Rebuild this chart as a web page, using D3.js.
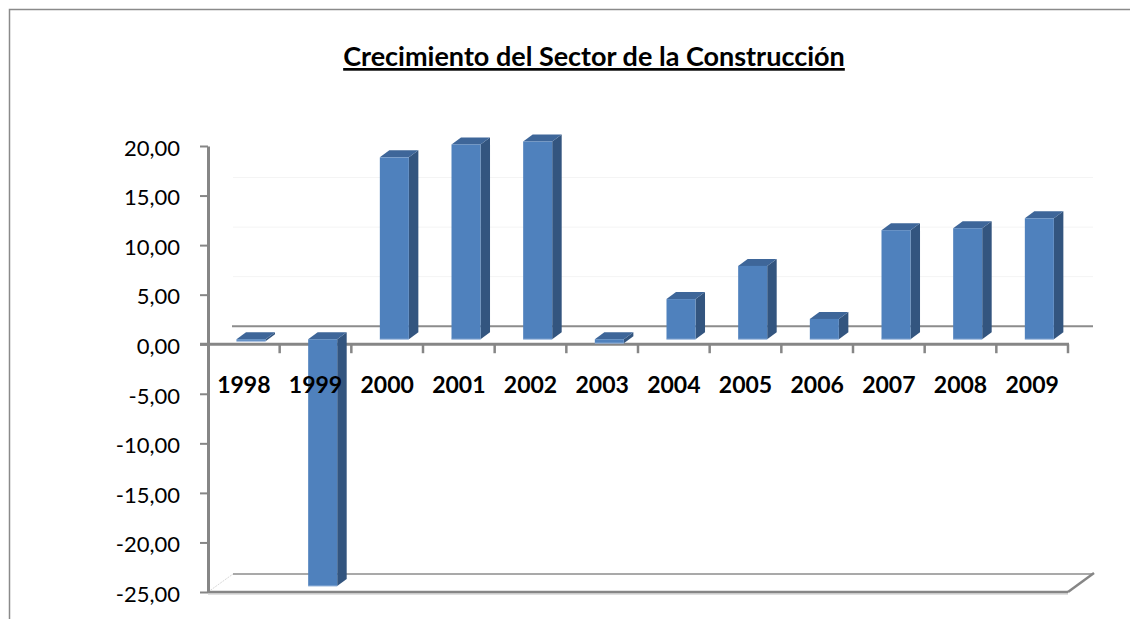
<!DOCTYPE html>
<html lang="es">
<head>
<meta charset="utf-8">
<title>Crecimiento del Sector de la Construcción</title>
<script src="https://d3js.org/d3.v7.min.js"></script>
<style>
    body { margin: 0; background: #fff; }
    svg text { font-family: Lato, "Open Sans", sans-serif; fill: #000; }
    .title { font-size: 27px; font-weight: bold; text-decoration: underline; }
    .ylab { font-size: 22px; }
    .xlab { font-size: 23px; font-weight: bold; }
</style>
</head>
<body>
<div id="chart"></div>
<script>
    var years = ["1998", "1999", "2000", "2001", "2002", "2003", "2004", "2005", "2006", "2007", "2008", "2009"];
    var growth = [-0.2, -24.9, 18.35, 19.65, 19.95, -0.4, 4.05, 7.4, 2.05, 11.0, 11.2, 12.2];
    var yTicks = [-25, -20, -15, -10, -5, 0, 5, 10, 15, 20];
    var titleText = "Crecimiento del Sector de la Construcción";

    var WIDTH = 1130, HEIGHT = 619;
    var plotLeft = 208, plotRight = 1068, plotTop = 146, plotBottom = 592;
    // depth of the 3d box and where the bars sit in it
    var DX = 25, DY = -18;
    var bdx0 = 7, bdy0 = -5;      // front face of bars
    var sdx = 9.5, sdy = -7;      // bar depth

    var svg = d3.select("#chart").append("svg")
        .attr("width", WIDTH)
        .attr("height", HEIGHT);

    // chart border
    svg.append("rect")
        .attr("x", 9.5).attr("y", 9.5)
        .attr("width", WIDTH + 20).attr("height", HEIGHT + 20)
        .attr("fill", "none")
        .attr("stroke", "#8a8a8a")
        .attr("stroke-width", 1.5);

    svg.append("text")
        .attr("class", "title")
        .attr("x", 594)
        .attr("y", 66)
        .attr("text-anchor", "middle")
        .text(titleText);

    var x = d3.scaleBand()
        .domain(years)
        .range([plotLeft, plotRight]);
    var bw = x.bandwidth();

    var y = d3.scaleLinear()
        .domain([-25, 20])
        .range([plotBottom, plotTop]);

    // faint back wall gridlines
    svg.append("g").selectAll("line")
        .data(yTicks.filter(d => d > 0 && d < 20))
        .enter().append("line")
        .attr("x1", plotLeft + DX).attr("x2", plotRight + DX)
        .attr("y1", d => y(d) + DY).attr("y2", d => y(d) + DY)
        .attr("stroke", "#f4f4f4")
        .attr("stroke-width", 1);

    // back line at zero
    svg.append("line")
        .attr("x1", plotLeft + DX - 1).attr("x2", plotRight + DX)
        .attr("y1", y(0) + DY).attr("y2", y(0) + DY)
        .attr("stroke", "#8c8c8c")
        .attr("stroke-width", 2);

    // floor at the minimum
    var floor = svg.append("g").attr("fill", "none");
    floor.append("line")
        .attr("x1", plotLeft + DX).attr("x2", plotRight + DX)
        .attr("y1", plotBottom + DY).attr("y2", plotBottom + DY)
        .attr("stroke", "#8c8c8c").attr("stroke-width", 1.5);
    floor.append("line")
        .attr("x1", plotLeft).attr("x2", plotRight)
        .attr("y1", plotBottom + 2).attr("y2", plotBottom + 2)
        .attr("stroke", "#e0e0e0").attr("stroke-width", 2);
    floor.append("line")
        .attr("x1", plotLeft).attr("x2", plotRight)
        .attr("y1", plotBottom).attr("y2", plotBottom)
        .attr("stroke", "#868686").attr("stroke-width", 2.5);
    floor.append("line")
        .attr("x1", plotRight).attr("x2", plotRight + DX + 1)
        .attr("y1", plotBottom).attr("y2", plotBottom + DY - 1)
        .attr("stroke", "#868686").attr("stroke-width", 2.5);
    floor.append("line")
        .attr("x1", plotLeft).attr("x2", plotLeft + DX)
        .attr("y1", plotBottom).attr("y2", plotBottom + DY)
        .attr("stroke", "#d8d8d8").attr("stroke-width", 1)
        .attr("stroke-dasharray", "2,1");

    // front category axis at zero
    svg.append("line")
        .attr("x1", plotLeft - 8).attr("x2", plotRight + 1)
        .attr("y1", y(0)).attr("y2", y(0))
        .attr("stroke", "#868686")
        .attr("stroke-width", 3);

    svg.append("g").selectAll("line")
        .data(years)
        .enter().append("line")
        .attr("x1", d => x(d) + bw).attr("x2", d => x(d) + bw)
        .attr("y1", y(0)).attr("y2", y(0) + 9)
        .attr("stroke", "#868686")
        .attr("stroke-width", 2.5);

    // bars
    var y0 = y(0) + bdy0;
    var fw = bw * 0.405;
    var bars = svg.append("g").selectAll("g")
        .data(years.map((d, i) => ({ year: d, v: growth[i] })))
        .enter().append("g");

    function fx(d) { return x(d.year) + bw * 0.3 + bdx0; }
    function yt(d) { return d.v >= 0 ? y(d.v) + bdy0 : y0; }
    function yb(d) { return d.v >= 0 ? y0 : y(d.v) + bdy0; }

    bars.append("polygon")
        .attr("points", d => [
            [fx(d) + fw, yt(d)], [fx(d) + fw + sdx, yt(d) + sdy],
            [fx(d) + fw + sdx, yb(d) + sdy], [fx(d) + fw, yb(d)]
        ].join(" "))
        .attr("fill", "#33557f");

    bars.append("polygon")
        .attr("points", d => [
            [fx(d), yt(d)], [fx(d) + sdx, yt(d) + sdy],
            [fx(d) + fw + sdx, yt(d) + sdy], [fx(d) + fw, yt(d)]
        ].join(" "))
        .attr("fill", "#3e6699");

    bars.append("rect")
        .attr("x", d => fx(d))
        .attr("y", d => yt(d))
        .attr("width", fw)
        .attr("height", d => Math.max(0.8, yb(d) - yt(d)))
        .attr("fill", "#4f81bd");

    bars.append("line")
        .attr("x1", d => fx(d)).attr("x2", d => fx(d) + fw)
        .attr("y1", d => yb(d)).attr("y2", d => yb(d))
        .attr("stroke", "#9bb7dc")
        .attr("stroke-width", 1);

    // category labels
    svg.append("g").selectAll("text")
        .data(years)
        .enter().append("text")
        .attr("class", "xlab")
        .attr("x", d => x(d) + bw / 2)
        .attr("y", 393)
        .attr("text-anchor", "middle")
        .text(d => d);

    // value axis, comma decimals and a plain hyphen for the minus
    var esFormat = d3.formatLocale({
        decimal: ",", thousands: ".", grouping: [3], currency: ["", ""], minus: "-"
    }).format(".2f");

    var yAxis = d3.axisLeft(y)
        .tickValues(yTicks)
        .tickSize(8)
        .tickSizeOuter(0)
        .tickPadding(20)
        .tickFormat(esFormat);

    var ya = svg.append("g")
        .attr("transform", "translate(" + plotLeft + ",0)")
        .call(yAxis);
    ya.select(".domain")
        .attr("stroke", "#868686")
        .attr("stroke-width", 3);
    ya.selectAll(".tick line")
        .attr("stroke", "#868686")
        .attr("stroke-width", 2);
    ya.selectAll(".tick text")
        .attr("class", "ylab")
        .attr("dy", "0.42em")
        .attr("fill", "#000");
</script>
</body>
</html>
